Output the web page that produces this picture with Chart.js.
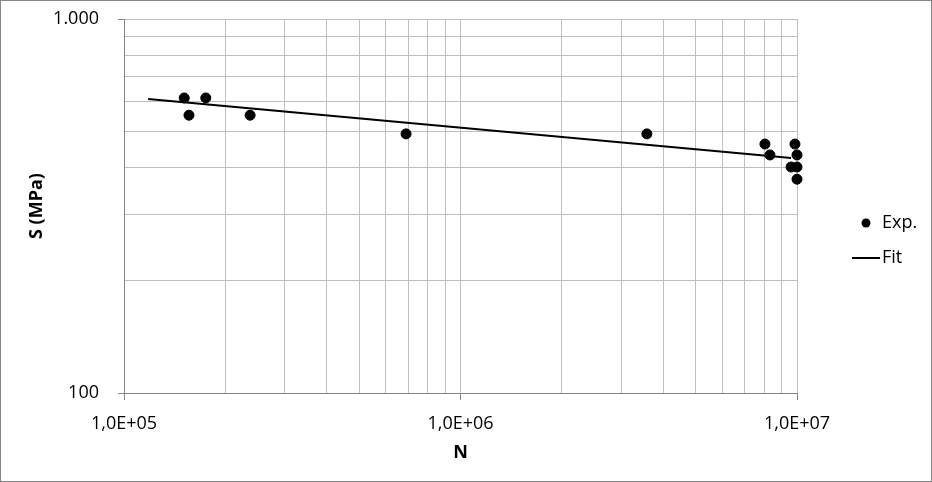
<!DOCTYPE html>
<html>
<head>
<meta charset="utf-8">
<script src="https://cdn.jsdelivr.net/npm/chart.js@4/dist/chart.umd.min.js"></script>
<style>
  body { margin: 0; background: #fff; }
  canvas { display: block; }
</style>
</head>
<body>
<canvas id="chart" width="932" height="482"></canvas>
<script>
// Punti sperimentali (N, S)
const expN = [1.51e5, 1.56e5, 1.75e5, 2.37e5, 6.89e5, 3.58e6, 8.03e6, 8.31e6, 9.86e6, 1.0e7, 9.6e6, 1.0e7, 1.0e7];
const expS = [615, 553, 615, 553, 493, 493, 463, 433, 463, 433, 402, 402, 373];

// Retta di fit (estremi)
const fitN = [1.18e5, 9.6e6];
const fitS = [611, 425];

// Griglia e etichette degli assi
const xGridValues = [1e5, 2e5, 3e5, 4e5, 5e5, 6e5, 7e5, 8e5, 9e5,
                     1e6, 2e6, 3e6, 4e6, 5e6, 6e6, 7e6, 8e6, 9e6, 1e7];
const xMajor = [1e5, 1e6, 1e7];
const xTickLabels = ['1,0E+05', '1,0E+06', '1,0E+07'];

const yGridValues = [100, 200, 300, 400, 500, 600, 700, 800, 900, 1000];
const yMajor = [100, 1000];
const yTickLabels = ['100', '1.000'];

const FONT = "'Open Sans', sans-serif";
const gridColor = '#bfbfbf';
const axisColor = '#868686';

const expData = expN.map((n, i) => ({ x: n, y: expS[i] }));
const fitData = fitN.map((n, i) => ({ x: n, y: fitS[i] }));

// Legenda e cornice come in Excel
const excelFrame = {
    id: 'excelFrame',
    beforeDraw(chart) {
        const c = chart.ctx;
        c.save();
        c.fillStyle = '#fff';
        c.fillRect(0, 0, chart.width, chart.height);
        c.restore();
    },
    afterDraw(chart) {
        const c = chart.ctx;
        c.save();
        c.strokeStyle = axisColor;
        c.lineWidth = 1;
        c.strokeRect(0.5, 0.5, chart.width - 1, chart.height - 1);

        c.font = '18px ' + FONT;
        c.fillStyle = '#000';
        c.textBaseline = 'middle';
        c.textAlign = 'left';

        // Exp.
        c.beginPath();
        c.arc(866, 223, 4.5, 0, Math.PI * 2);
        c.fill();
        c.fillText(chart.data.datasets[0].label, 882, 223);

        // Fit
        c.beginPath();
        c.strokeStyle = '#000';
        c.lineWidth = 2;
        c.moveTo(852, 258);
        c.lineTo(880, 258);
        c.stroke();
        c.fillText(chart.data.datasets[1].label, 882, 258);
        c.restore();
    }
};

const ctx = document.getElementById('chart').getContext('2d');
const chart = new Chart(ctx, {
    type: 'scatter',
    data: {
        datasets: [{
            label: 'Exp.',
            data: expData,
            backgroundColor: '#000',
            borderColor: '#000',
            pointRadius: 5,
            showLine: false,
            clip: false
        }, {
            label: 'Fit',
            data: fitData,
            borderColor: '#000',
            borderWidth: 2,
            pointRadius: 0,
            showLine: true,
            clip: false
        }]
    },
    options: {
        responsive: false,
        animation: false,
        layout: { padding: { left: 0, top: 19, right: 135, bottom: 0 } },
        plugins: {
            legend: { display: false },
            tooltip: { enabled: false }
        },
        scales: {
            x: {
                type: 'logarithmic',
                min: 1e5,
                max: 1e7,
                afterBuildTicks: (scale) => {
                    scale.ticks = xGridValues.map(v => ({ value: v, major: xMajor.includes(v) }));
                },
                afterFit: (scale) => { scale.height = 89; },
                ticks: {
                    autoSkip: false,
                    maxRotation: 0,
                    padding: 13,
                    color: '#000',
                    font: { family: FONT, size: 18 },
                    callback: (value) => {
                        const i = xMajor.indexOf(value);
                        return i >= 0 ? xTickLabels[i] : '';
                    }
                },
                grid: {
                    color: gridColor,
                    tickLength: 7,
                    tickColor: (c) => (c.tick && c.tick.major) ? axisColor : 'rgba(0,0,0,0)'
                },
                border: { color: axisColor },
                title: {
                    display: true,
                    text: 'N',
                    color: '#000',
                    font: { family: FONT, size: 18, weight: 'bold' },
                    padding: { top: 0, bottom: 18 }
                }
            },
            y: {
                type: 'logarithmic',
                min: 100,
                max: 1000,
                afterBuildTicks: (scale) => {
                    scale.ticks = yGridValues.map(v => ({ value: v, major: yMajor.includes(v) }));
                },
                afterFit: (scale) => {
                    scale.width = 124;
                    scale.paddingTop = 0;
                    scale.paddingBottom = 0;
                },
                ticks: {
                    autoSkip: false,
                    padding: 19,
                    color: '#000',
                    font: { family: FONT, size: 18 },
                    callback: (value) => {
                        const i = yMajor.indexOf(value);
                        return i >= 0 ? yTickLabels[i] : '';
                    }
                },
                grid: {
                    color: gridColor,
                    tickLength: 6,
                    tickColor: (c) => (c.tick && c.tick.major) ? axisColor : 'rgba(0,0,0,0)'
                },
                border: { color: axisColor },
                title: {
                    display: true,
                    text: 'S (MPa)',
                    color: '#000',
                    font: { family: FONT, size: 18, weight: 'bold' },
                    padding: { top: 26, bottom: 0 }
                }
            }
        }
    },
    plugins: [excelFrame]
});
</script>
</body>
</html>
